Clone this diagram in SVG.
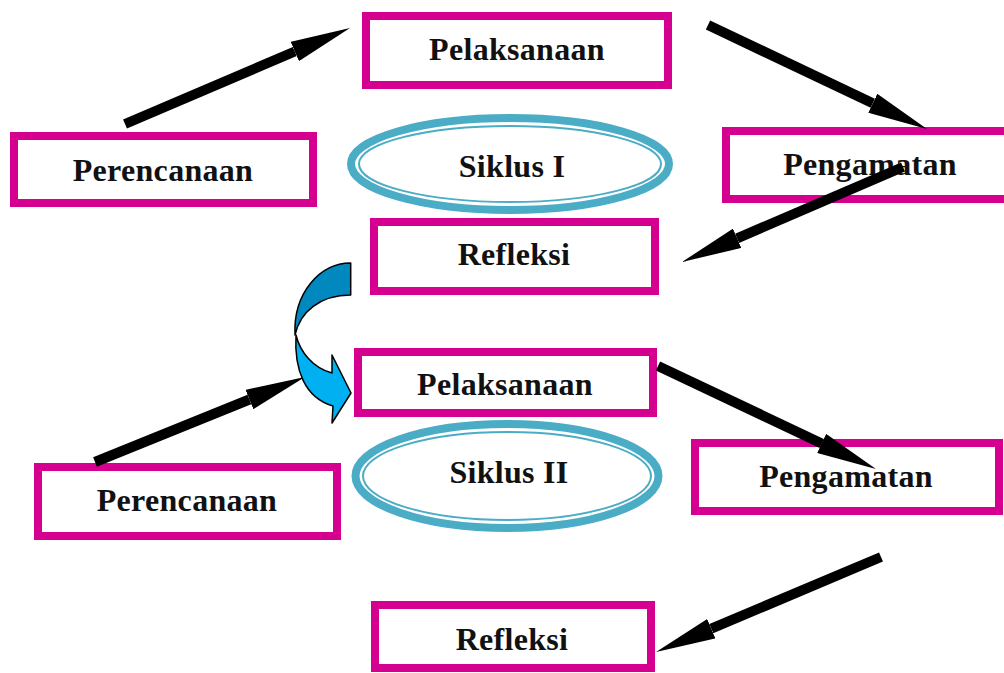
<svg xmlns="http://www.w3.org/2000/svg" width="1004" height="673" viewBox="0 0 1004 673">
  <style>
    .box { fill: #ffffff; stroke: #D5008F; stroke-width: 8; }
    .lbl { font-family: "Liberation Serif", "Times New Roman", serif; font-weight: bold; font-size: 32px; fill: #111111; text-anchor: middle; letter-spacing: 0.3px; }
    .ring { fill: none; stroke: #4BACC6; stroke-width: 8; }
    .ring-in { fill: none; stroke: #4BACC6; stroke-width: 2; }
    .shaft { fill: none; stroke: #000000; stroke-width: 10; stroke-linecap: butt; marker-end: url(#head); }
  </style>
  <defs>
    <marker id="head" markerUnits="userSpaceOnUse" viewBox="0 0 60 21" refX="0" refY="10.5" markerWidth="60" markerHeight="21" orient="auto">
      <path d="M0,0 L60,10.5 L0,21 Z" fill="#000000"/>
    </marker>
  </defs>
  <rect width="1004" height="673" fill="#ffffff"/>

  <!-- Cycle I -->
  <g id="perencanaan-1">
    <rect class="box" x="14" y="136" width="299" height="67"/>
    <text class="lbl" x="163" y="181">Perencanaan</text>
  </g>
  <g id="pelaksanaan-1">
    <rect class="box" x="366" y="16" width="302" height="69"/>
    <text class="lbl" x="517" y="60">Pelaksanaan</text>
  </g>
  <g id="pengamatan-1">
    <rect class="box" x="726" y="131" width="292" height="68"/>
    <text class="lbl" x="870" y="175">Pengamatan</text>
  </g>
  <g id="siklus-1">
    <ellipse class="ring" cx="510" cy="164" rx="159" ry="46"/>
    <ellipse class="ring-in" cx="510" cy="164" rx="151" ry="38"/>
    <text class="lbl" x="512" y="177">Siklus I</text>
  </g>
  <g id="refleksi-1">
    <rect class="box" x="374" y="222" width="281" height="69"/>
    <text class="lbl" x="514" y="265">Refleksi</text>
  </g>

  <!-- Cycle II -->
  <g id="pelaksanaan-2">
    <rect class="box" x="358" y="352" width="295" height="61"/>
    <text class="lbl" x="505" y="395">Pelaksanaan</text>
  </g>
  <g id="siklus-2">
    <ellipse class="ring" cx="507" cy="476" rx="151.5" ry="52"/>
    <ellipse class="ring-in" cx="507" cy="476" rx="144" ry="44"/>
    <text class="lbl" x="509" y="483">Siklus II</text>
  </g>
  <g id="perencanaan-2">
    <rect class="box" x="38" y="467" width="299" height="69"/>
    <text class="lbl" x="187" y="511">Perencanaan</text>
  </g>
  <g id="pengamatan-2">
    <rect class="box" x="695" y="443" width="304" height="68"/>
    <text class="lbl" x="846" y="487">Pengamatan</text>
  </g>
  <g id="refleksi-2">
    <rect class="box" x="375" y="605" width="276" height="63"/>
    <text class="lbl" x="512" y="650">Refleksi</text>
  </g>

  <!-- Connectors -->
  <g id="connectors">
    <path class="shaft" d="M125,124 L294.8,51.5"/>
    <path class="shaft" d="M708,25 L872.8,103.3"/>
    <path class="shaft" d="M903,167 L737.1,238.3"/>
    <path class="shaft" d="M95,462 L249.4,399.5"/>
    <path class="shaft" d="M658,366 L821.7,443.4"/>
    <path class="shaft" d="M881,557 L711.3,628.7"/>

    <!-- curved transition arrow from cycle I to cycle II -->
    <g id="curved-arrow" stroke="#000000" stroke-width="1.5" stroke-linejoin="round">
      <path d="M296,335 C294,370 305,398 333,406 L332,423 L351,393 L332,355 L332,373 C313,368 300,352 296,335 Z" fill="#00B0F0"/>
      <path d="M350.7,263 C320,263 293,293 295,335 C300,312 320,295 350.7,295 Z" fill="#0088BF"/>
    </g>
  </g>
</svg>
